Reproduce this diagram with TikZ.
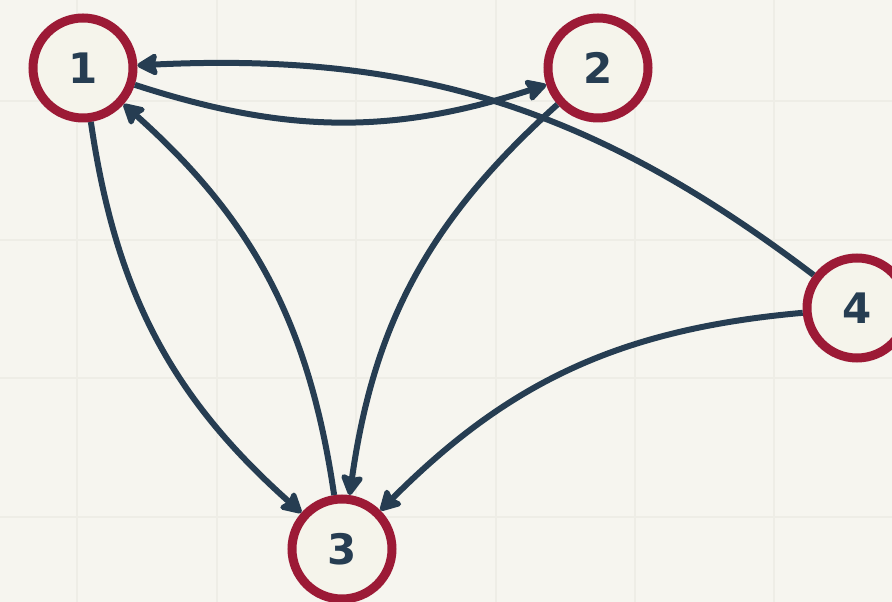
\documentclass[tikz,border=0pt]{standalone}
\usepackage{fontspec}
\setmainfont{DejaVu Sans}
\usetikzlibrary{arrows.meta}
\definecolor{bgc}{HTML}{F6F5EF}
\definecolor{gridc}{HTML}{EEEDE6}
\definecolor{ringc}{HTML}{9C1A36}
\definecolor{fillc}{HTML}{F5F4EB}
\definecolor{navy}{HTML}{263D52}
\tikzset{
  vertex/.style={circle, draw=ringc, fill=fillc, line width=9pt, minimum size=100pt, inner sep=0pt,
    text=navy, font=\fontsize{42}{42}\selectfont\bfseries},
  edge/.style={draw=navy, line width=6pt, -{Stealth[length=24pt 0, width=26pt 0, inset=4pt 0, round]}},
  gridline/.style={draw=gridc, line width=2.5pt}
}
\begin{document}
\begin{tikzpicture}[x=1pt, y=1pt]
\fill[bgc] (0,0) rectangle (892,602);
\useasboundingbox (0,0) rectangle (892,602);
\foreach \gx in {77,217,356,496,635,774} \draw[gridline] (\gx,0) -- (\gx,602);
\foreach \gy in {85,224,362,501} \draw[gridline] (0,\gy) -- (892,\gy);
\begin{scope}
\clip (0,0) rectangle (892,589);
\node[vertex] (n1) at (83,534) {1};
\node[vertex] (n2) at (598,534) {2};
\node[vertex] (n3) at (342,53) {3};
\node[vertex] (n4) at (857,294) {4};
\draw[edge] (n1) to[bend right=18] (n2);
\draw[edge] (n4) to[bend right=20] (n1);
\draw[edge] (n1) to[bend right=20] (n3);
\draw[edge] (n3) to[bend right=20] (n1);
\draw[edge] (n2) to[bend right=20] (n3);
\draw[edge] (n4) to[bend right=20] (n3);
\end{scope}
\end{tikzpicture}
\end{document}
